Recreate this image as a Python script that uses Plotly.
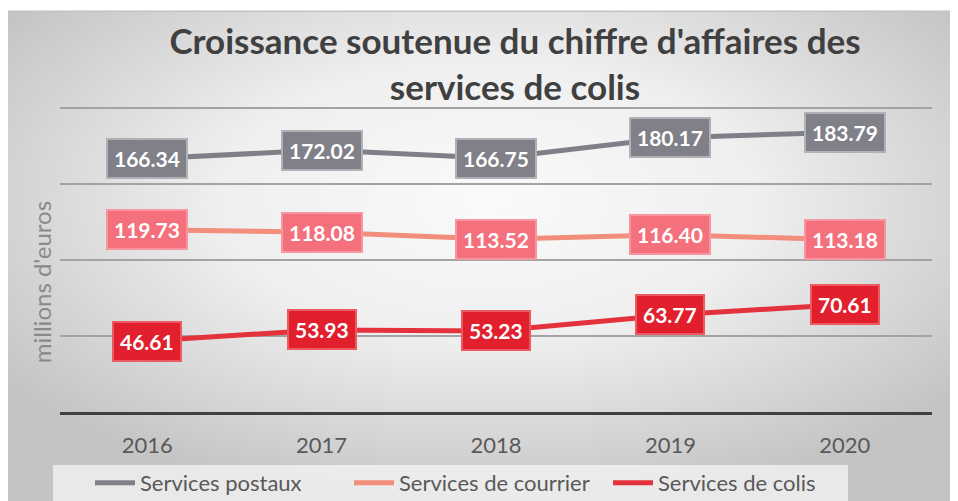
import plotly.graph_objects as go
import urllib.parse

years = ["2016", "2017", "2018", "2019", "2020"]
postaux = [166.34, 172.02, 166.75, 180.17, 183.79]
courrier = [119.73, 118.08, 113.52, 116.40, 113.18]
colis = [46.61, 53.93, 53.23, 63.77, 70.61]

series_names = ["Services postaux", "Services de courrier", "Services de colis"]
series_values = [postaux, courrier, colis]
line_colors = ["#7f7f87", "#f38d7c", "#e4323c"]
box_fills = ["#808089", "#f3707c", "#e11f2d"]
box_borders = ["#b0b0b6", "#f6979f", "#ec5a62"]

title_text = "Croissance soutenue du chiffre d'affaires des<br>services de colis"
y_title = "millions d'euros"

OFF = 8                      # page body margin
W, H = 958 - OFF, 501 - OFF
# plot area in screen pixels: x 60..932, y ~105.5..412 (range 0..201)
L, R, T, B = 60 - OFF, W - (932 - OFF), 97.5, H - (412 - OFF)
pw, ph = W - L - R, H - T - B

def px_x(s):
    return (s - OFF - L) / pw

def px_y(s):
    return (H - B - (s - OFF)) / ph

FONT = "Lato"

fig = go.Figure()
for name, vals, lc in zip(series_names, series_values, line_colors):
    fig.add_trace(go.Scatter(x=years, y=vals, name=name, mode="lines",
                             line=dict(color=lc, width=5)))

annotations = []
for vals, fc, bc in zip(series_values, box_fills, box_borders):
    for i, v in enumerate(vals):
        annotations.append(dict(x=i, y=v, xref="x", yref="y", text=f"<b>{v:.2f}</b>",
                                showarrow=False, bgcolor=fc, bordercolor=bc,
                                borderwidth=2, borderpad=6,
                                xanchor="center", yanchor="middle",
                                font=dict(family=FONT, size=21, color="white")))

annotations.append(dict(x=px_x(41), y=px_y(282), xref="paper", yref="paper",
                        text=y_title, textangle=-90, showarrow=False,
                        xanchor="center", yanchor="middle",
                        font=dict(family=FONT, size=24, color="#8a8a8a")))

svg = ("<svg xmlns='http://www.w3.org/2000/svg' width='960' height='500' preserveAspectRatio='none'>"
       "<defs><radialGradient id='g' cx='50%' cy='38%' r='62%'>"
       "<stop offset='0' stop-color='#fafafa'/>"
       "<stop offset='0.45' stop-color='#efefef'/>"
       "<stop offset='1' stop-color='#c4c4c4'/>"
       "</radialGradient></defs>"
       "<rect width='960' height='500' fill='url(#g)'/></svg>")
src = "data:image/svg+xml;charset=utf-8," + urllib.parse.quote(svg)

fig.update_layout(
    width=W, height=H,
    margin=dict(l=L, r=R, t=T, b=B, autoexpand=False),
    paper_bgcolor="white",
    plot_bgcolor="rgba(0,0,0,0)",
    font=dict(family=FONT, color="#595959"),
    title=dict(text=f"<b>{title_text}</b>", x=(515 - OFF) / W, xanchor="center",
               xref="container", y=1 - 46 / H, yanchor="top", yref="container",
               font=dict(family=FONT, size=35, color="#404040")),
    images=[dict(source=src, xref="paper", yref="paper",
                 x=px_x(7), y=px_y(10), sizex=960 / pw, sizey=500 / ph,
                 xanchor="left", yanchor="top", sizing="stretch", layer="below")],
    shapes=[
        dict(type="rect", xref="paper", yref="paper",
             x0=px_x(53), x1=px_x(848), y0=px_y(465), y1=px_y(510),
             fillcolor="rgba(245,245,245,0.75)", line=dict(width=0), layer="below"),
        dict(type="line", xref="paper", yref="paper",
             x0=px_x(7), x1=px_x(970), y0=px_y(10.5), y1=px_y(10.5),
             line=dict(color="#c4c4c4", width=1.5), layer="below"),
    ],
    xaxis=dict(type="category", range=[-0.5, 4.5], showgrid=False,
               showline=True, linecolor="#404040", linewidth=3,
               ticks="", ticklabelstandoff=12, automargin=False,
               tickfont=dict(family=FONT, size=22, color="#595959")),
    yaxis=dict(range=[0, 201], dtick=50, showticklabels=False, automargin=False,
               showgrid=True, gridcolor="#a3a3a3", gridwidth=2,
               zeroline=False, showline=False),
    legend=dict(orientation="h", x=px_x(90), xanchor="left",
                y=px_y(483), yanchor="middle", bgcolor="rgba(0,0,0,0)",
                font=dict(family=FONT, size=22, color="#595959"),
                itemwidth=40, entrywidth=204, entrywidthmode="pixels"),
    annotations=annotations,
    showlegend=True,
)

fig.write_html("out.html")
